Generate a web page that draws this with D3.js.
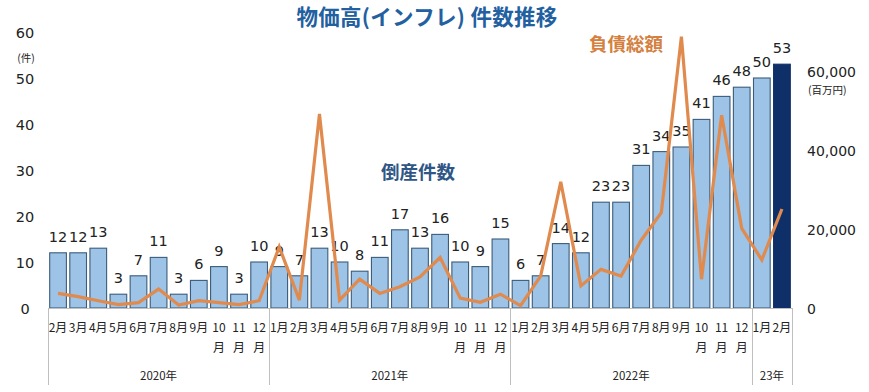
<!DOCTYPE html>
<html><head><meta charset="utf-8">
<script src="https://cdn.jsdelivr.net/npm/d3@7"></script>
<style>
html,body{margin:0;padding:0;background:#fff;}
svg text{font-family:"Noto Sans CJK JP","Noto Sans",sans-serif;}
svg text.num{font-family:"DejaVu Sans","Noto Sans CJK JP",sans-serif;}
</style></head>
<body><svg id="c" width="869" height="392"></svg>
<script>
const months = ["2月","3月","4月","5月","6月","7月","8月","9月","10月","11月","12月",
  "1月","2月","3月","4月","5月","6月","7月","8月","9月","10月","11月","12月",
  "1月","2月","3月","4月","5月","6月","7月","8月","9月","10月","11月","12月",
  "1月","2月"];
const counts = [12,12,13,3,7,11,3,6,9,3,10,
  9,7,13,10,8,11,17,13,16,10,9,15,
  6,7,14,12,23,23,31,34,35,41,46,48,
  50,53];
const debts = [3700,2900,1850,850,1350,4800,760,1850,1350,850,1850,
  15500,2000,49200,2000,7300,3700,5400,7900,12800,2500,1450,3500,
  600,8100,32000,5600,9800,8100,17200,24200,68800,7300,48900,20200,
  12200,25100];
const yearLabels = ["2020年","2021年","2022年","23年"];
const yearSizes = [11,12,12,2];
const leftTicks = [0,10,20,30,40,50,60];
const rightTicks = [0,20000,40000,60000];

const svg = d3.select("#c");
const idx = d3.range(counts.length);
const x = d3.scaleBand().domain(idx).range([48,792]).paddingInner(0.17).paddingOuter(0.085);
const yL = d3.scaleLinear().domain([0,60]).range([308,32]);
const yR = d3.scaleLinear().domain([0,70000]).range([308,32]);

// title
svg.append("text").attr("x",427).attr("y",25).attr("text-anchor","middle")
  .attr("font-size",21.5).attr("font-weight","bold").attr("fill","#22609F")
  .attr("letter-spacing",0.3)
  .text("物価高(インフレ) 件数推移");

// bars
svg.append("g").selectAll("rect").data(idx).join("rect")
  .attr("x",i=>x(i)).attr("width",x.bandwidth())
  .attr("y",i=>yL(counts[i])).attr("height",i=>yL(0)-yL(counts[i]))
  .attr("fill",i=>i===counts.length-1?"#0E2F68":"#9DC3E6")
  .attr("stroke",i=>i===counts.length-1?"#0E2F68":"#3B5C7A").attr("stroke-width",1.1);

// axis baseline
svg.append("line").attr("x1",48).attr("x2",792).attr("y1",308.5).attr("y2",308.5)
  .attr("stroke","#BFBFBF").attr("stroke-width",1);

// value labels
svg.append("g").selectAll("text").data(idx).join("text").attr("class","num")
  .attr("x",i=>x(i)+x.bandwidth()/2).attr("y",i=>yL(counts[i])-11)
  .attr("text-anchor","middle").attr("font-size",14.5).attr("fill","#222")
  .text(i=>counts[i]);

// line
const line = d3.line().x(i=>x(i)+x.bandwidth()/2).y(i=>yR(debts[i]));
svg.append("path").datum(idx).attr("d",line).attr("fill","none")
  .attr("stroke","#E08A4E").attr("stroke-width",3.2).attr("stroke-linejoin","miter");

// left axis labels
svg.append("g").selectAll("text").data(leftTicks).join("text").attr("class","num")
  .attr("x",25).attr("y",d=>yL(d)+5.5).attr("text-anchor","middle")
  .attr("font-size",14.5).attr("fill","#222").text(d=>d);
svg.append("text").attr("x",26).attr("y",62).attr("text-anchor","middle")
  .attr("font-size",10.5).attr("fill","#222").text("(件)");

// right axis labels
svg.append("g").selectAll("text").data(rightTicks).join("text").attr("class","num")
  .attr("x",807).attr("y",d=>yR(d)+5.5).attr("text-anchor","start")
  .attr("font-size",14).attr("fill","#222").text(d=>d3.format(",")(d));
svg.append("text").attr("x",808).attr("y",94).attr("text-anchor","start")
  .attr("font-size",10.5).attr("fill","#222").text("(百万円)");

// month labels
const mg = svg.append("g");
idx.forEach(i=>{
  const cx = x(i)+x.bandwidth()/2;
  const m = months[i];
  if (m.length>2){
    mg.append("text").attr("x",cx).attr("y",332).attr("text-anchor","middle")
      .attr("font-size",12).attr("fill","#222").text(m.slice(0,m.length-1));
    mg.append("text").attr("x",cx).attr("y",352).attr("text-anchor","middle")
      .attr("font-size",12).attr("fill","#222").text("月");
  } else {
    mg.append("text").attr("x",cx).attr("y",332).attr("text-anchor","middle")
      .attr("font-size",12).attr("fill","#222").text(m);
  }
});

// year groups
let start = 0;
const step = x.step();
const x0 = 48;
const bounds = [x0];
yearSizes.forEach((n,k)=>{
  const a = x0 + start*step, b = x0 + (start+n)*step;
  bounds.push(b);
  svg.append("text").attr("x",(a+b)/2).attr("y",380).attr("text-anchor","middle")
    .attr("font-size",11.5).attr("fill","#222").text(yearLabels[k]);
  start += n;
});
svg.append("g").selectAll("line").data(bounds).join("line")
  .attr("x1",d=>Math.round(d)+0.5).attr("x2",d=>Math.round(d)+0.5)
  .attr("y1",308).attr("y2",385).attr("stroke","#BFBFBF").attr("stroke-width",1);

// series annotations
svg.append("text").attr("x",418).attr("y",179).attr("text-anchor","middle")
  .attr("font-size",18.5).attr("font-weight","bold").attr("fill","#2F5685").text("倒産件数");
svg.append("text").attr("x",626).attr("y",51).attr("text-anchor","middle")
  .attr("font-size",18.5).attr("font-weight","bold").attr("fill","#D4803F").text("負債総額");
</script></body></html>
